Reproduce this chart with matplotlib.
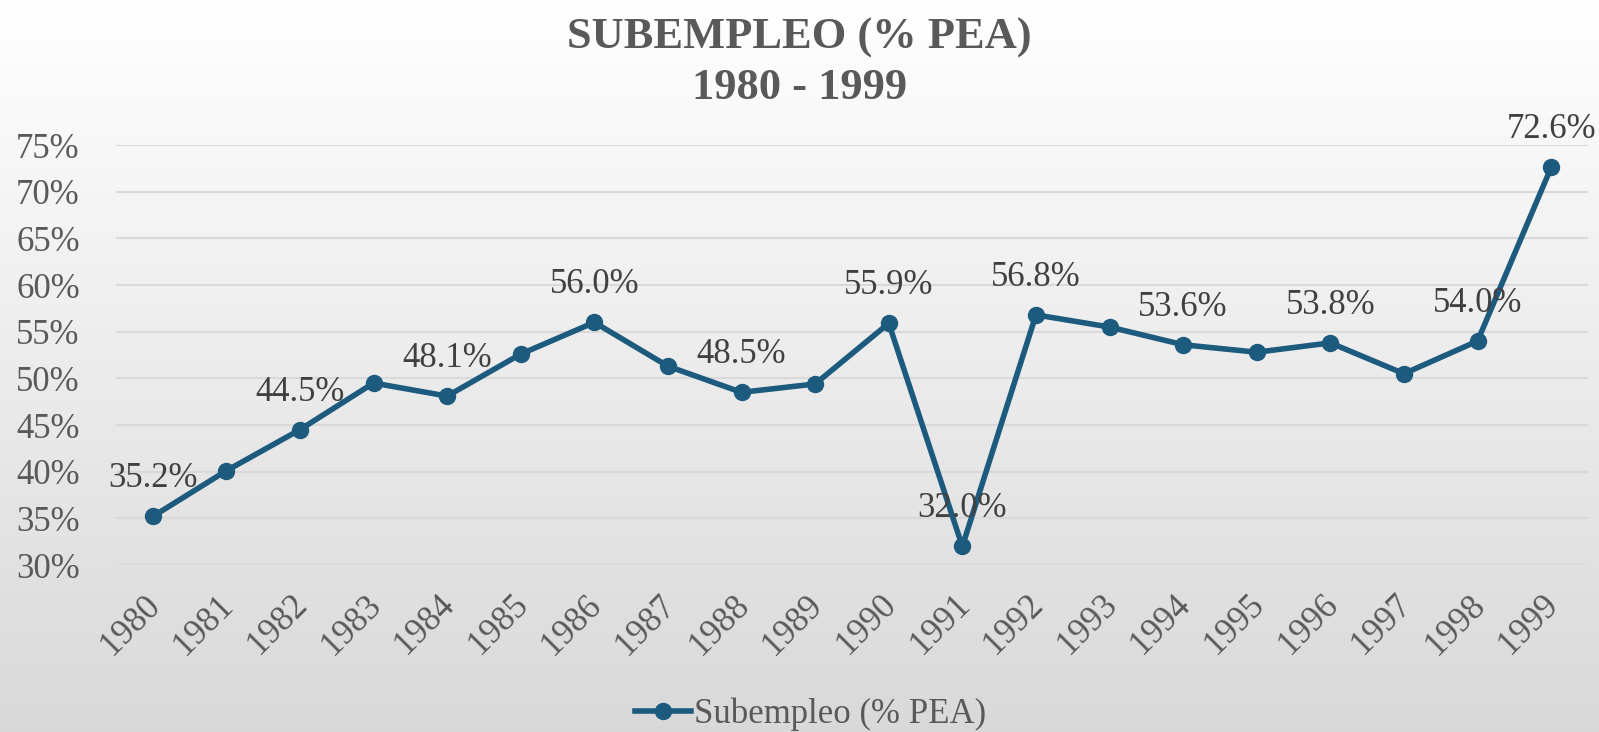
import numpy as np
import matplotlib.pyplot as plt
import matplotlib.transforms as mtransforms
from matplotlib.ticker import FuncFormatter

years = ['1980', '1981', '1982', '1983', '1984', '1985', '1986', '1987', '1988', '1989',
         '1990', '1991', '1992', '1993', '1994', '1995', '1996', '1997', '1998', '1999']
subempleo = [35.2, 40.1, 44.5, 49.5, 48.1, 52.6, 56.0, 51.3, 48.5, 49.4,
             55.9, 32.0, 56.8, 55.5, 53.6, 52.8, 53.8, 50.5, 54.0, 72.6]
# solo algunos puntos llevan etiqueta en el original
etiquetas = ['1980', '1982', '1984', '1986', '1988', '1990', '1991', '1992',
             '1994', '1996', '1998', '1999']
yticks = [30, 35, 40, 45, 50, 55, 60, 65, 70, 75]

plt.rcParams['font.family'] = ['Liberation Serif', 'DejaVu Serif']

color_linea = '#1c5a7e'
gris = '#595959'

fig = plt.figure(figsize=(15.99, 7.32), dpi=100)

# fondo degradado blanco -> gris
bg = fig.add_axes([0, 0, 1, 1], zorder=-10)
grad = np.linspace(1.0, 0.85, 256).reshape(-1, 1)
bg.imshow(np.dstack([grad, grad, grad]), aspect='auto', extent=[0, 1, 0, 1])
bg.axis('off')

ax = fig.add_axes([0.0725, 0.2281, 0.9206, 0.5738])
ax.patch.set_alpha(0)

x = np.arange(len(years))
ax.plot(x, subempleo, color=color_linea, lw=4, marker='o', markersize=11.5,
        label='Subempleo (% PEA)', zorder=3)

for i, (yr, v) in enumerate(zip(years, subempleo)):
    if yr in etiquetas:
        ax.annotate(f'{v:.1f}%', (i, v), xytext=(0, 27), textcoords='offset points',
                    ha='center', va='center', fontsize=25, color='#404040', zorder=4)

ax.set_xlim(-0.5, len(years) - 0.5)
ax.set_ylim(30, 75)
ax.set_yticks(yticks)
ax.yaxis.set_major_formatter(FuncFormatter(lambda v, p: f'{v:.0f}%'))
ax.set_xticks(x)
ax.set_xticklabels(years, rotation=45, ha='right')
ax.tick_params(axis='both', length=0, labelsize=25, labelcolor=gris)
ax.tick_params(axis='x', pad=17)
ax.tick_params(axis='y', pad=26)
shift = mtransforms.ScaledTranslation(0.14, 0, fig.dpi_scale_trans)
for lab in ax.get_xticklabels():
    lab.set_transform(lab.get_transform() + shift)
ax.grid(axis='y', color='#d9d9d9', lw=1.5)
ax.set_axisbelow(True)
for s in ax.spines.values():
    s.set_visible(False)

fig.text(0.5, 0.949, 'SUBEMPLEO (% PEA)', ha='center', va='center', fontsize=32,
         fontweight='bold', color=gris)
fig.text(0.5, 0.880, '1980 - 1999', ha='center', va='center', fontsize=32,
         fontweight='bold', color=gris)

fig.legend(loc='lower center', bbox_to_anchor=(0.507, -0.032), frameon=False, fontsize=25,
           labelcolor=gris, handlelength=1.6, handletextpad=0.1, borderpad=0.2)

fig.savefig('out.png', dpi=100)
